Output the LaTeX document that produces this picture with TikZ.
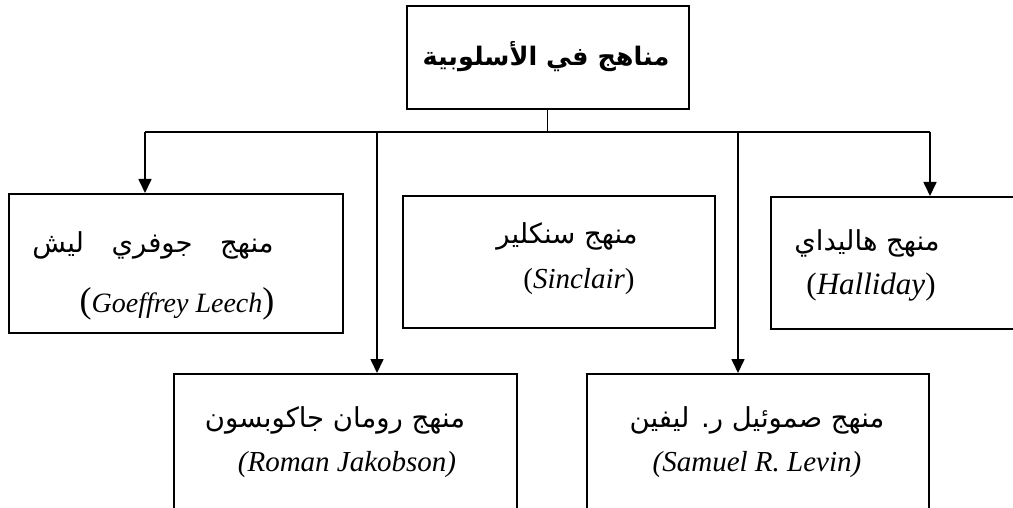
\documentclass[tikz,border=0pt]{standalone}
\usepackage{fontspec}
\setmainfont{Liberation Serif}
\newfontfamily\arabicfont[Script=Arabic]{DejaVu Sans}
\TeXXeTstate=1
\usetikzlibrary{arrows.meta}
\begin{document}
\begin{tikzpicture}[x=1pt,y=-1pt,
  box/.style={draw,line width=2.2pt,inner sep=0pt,anchor=north west},
  artxt/.style={inner sep=0pt,font=\arabicfont\fontsize{27.5}{32}\selectfont},
  lattxt/.style={inner sep=0pt,font=\fontsize{29}{34}\selectfont},
  titletxt/.style={inner sep=0pt,font=\arabicfont\bfseries\fontsize{25.5}{30}\selectfont},
  arr/.style={line width=1.7pt,-{Triangle[length=14pt,width=13pt]}},
  thinline/.style={line width=1.3pt}]
\path[use as bounding box,clip] (0,0) rectangle (1013,508);
\fill[white] (0,0) rectangle (1013,508);
% boxes
\node[box,minimum width=282pt,minimum height=103pt] (top) at (406,5) {};
\node[box,minimum width=334pt,minimum height=139pt] (leech) at (8,193) {};
\node[box,minimum width=312pt,minimum height=132pt] (sinc) at (402,195) {};
\node[box,minimum width=260pt,minimum height=132pt] (hall) at (770,196) {};
\node[box,minimum width=343pt,minimum height=150pt] (jak) at (173,373) {};
\node[box,minimum width=342pt,minimum height=150pt] (lev) at (586,373) {};
% texts
\node[titletxt] (ttl) at (546,57) {\beginR مناهج في الأسلوبية\endR};
\node[artxt] (leechA) at (153,245) {\beginR منهج\quad جوفري\quad ليش\endR};
\node[lattxt] (leechL) at (177,304) {{\fontsize{36}{36}\selectfont(}\textit{\fontsize{28}{32}\selectfont Goeffrey Leech}{\fontsize{36}{36}\selectfont)}};
\node[artxt] (sincA) at (567,236) {\beginR منهج سنكلير\endR};
\node[lattxt] (sincL) at (579,282) {(\textit{Sinclair})};
\node[artxt] (hallA) at (867,243) {\beginR منهج هاليداي\endR};
\node[lattxt,font=\fontsize{31}{36}\selectfont] (hallL) at (871,287) {(\textit{Halliday})};
\node[artxt] (jakA) at (335,420) {\beginR منهج رومان جاكوبسون\endR};
\node[lattxt] (jakL) at (347,465) {\textit{(Roman Jakobson)}};
\node[artxt] (levA) at (757,420) {\beginR منهج صموئيل ر. ليفين\endR};
\node[lattxt] (levL) at (757,465) {\textit{(Samuel R. Levin)}};
% connectors
\coordinate (hub) at (547,132);
\coordinate (jL) at (145,132);
\coordinate (jJ) at (377,132);
\coordinate (jV) at (738,132);
\coordinate (jH) at (930,132);
\draw[line width=1pt] (top.south -| hub) -- (hub);
\draw[thinline] (jL) -- (jH);
\draw[arr] (jL) -- (jL |- leech.north);
\draw[arr] (jJ) -- (jJ |- jak.north);
\draw[arr] (jV) -- (jV |- lev.north);
\draw[arr] (jH) -- (jH |- hall.north);
\end{tikzpicture}
\end{document}
